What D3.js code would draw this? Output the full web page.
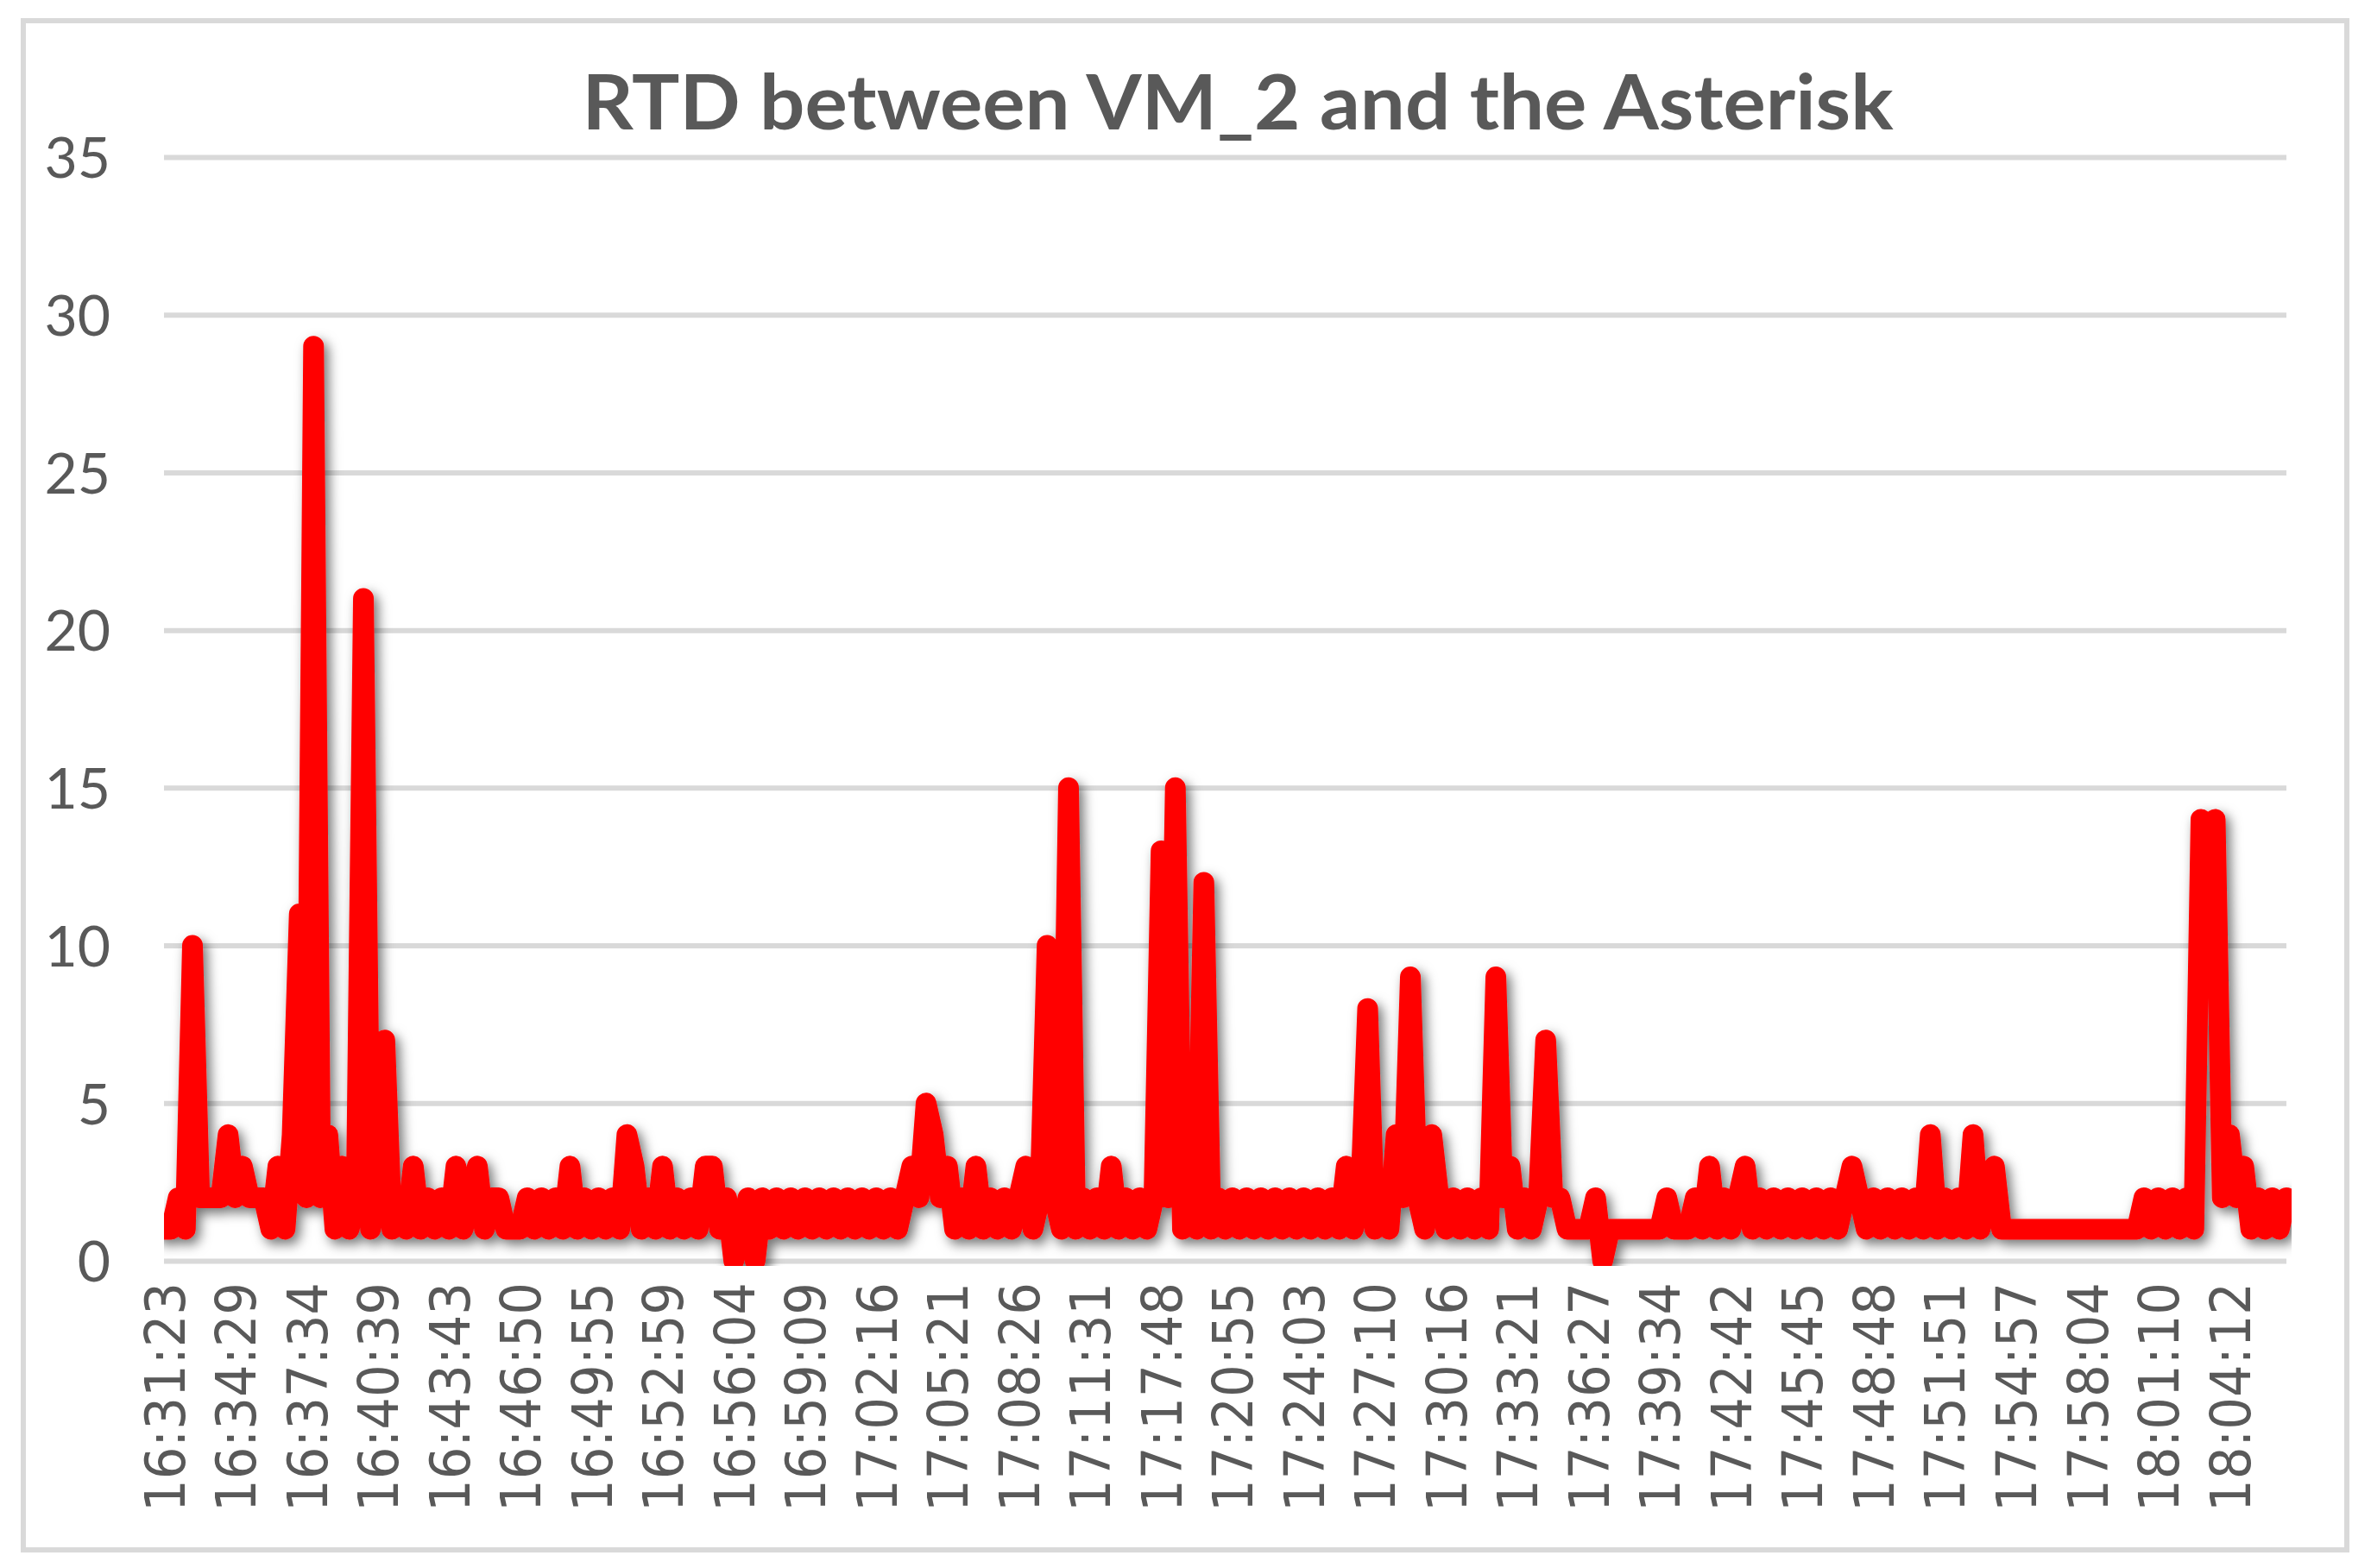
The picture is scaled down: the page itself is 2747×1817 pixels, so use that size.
<!DOCTYPE html>
<html>
<head>
<meta charset="utf-8">
<title>RTD between VM_2 and the Asterisk</title>
<script src="https://d3js.org/d3.v7.min.js"></script>
<style>
  body { margin: 0; background: #fff; }
</style>
</head>
<body>
<div id="chart"></div>
<script>
// x-axis labels, one every labelStep samples
const tickLabels = ["16:31:23", "16:34:29", "16:37:34", "16:40:39", "16:43:43", "16:46:50",
  "16:49:55", "16:52:59", "16:56:04", "16:59:09", "17:02:16", "17:05:21", "17:08:26",
  "17:11:31", "17:17:48", "17:20:55", "17:24:03", "17:27:10", "17:30:16", "17:33:21",
  "17:36:27", "17:39:34", "17:42:42", "17:45:45", "17:48:48", "17:51:51", "17:54:57",
  "17:58:04", "18:01:10", "18:04:12"];
const labelStep = 10;

const yTicks = [0, 5, 10, 15, 20, 25, 30, 35];

// RTD samples
const rtd = [
  1, 1, 2, 1, 10, 2, 2, 2, 2, 4,
  2, 3, 2, 2, 2, 1, 3, 1, 4, 11,
  2, 29, 2, 4, 1, 3, 1, 2, 21, 1,
  2, 7, 1, 2, 1, 3, 1, 2, 1, 2,
  1, 3, 1, 2, 3, 1, 2, 2, 1, 1,
  1, 2, 1, 2, 1, 2, 1, 3, 1, 2,
  1, 2, 1, 2, 1, 4, 3, 1, 2, 1,
  3, 1, 2, 1, 2, 1, 3, 3, 1, 2,
  0, 1, 2, 0, 2, 1, 2, 1, 2, 1,
  2, 1, 2, 1, 2, 1, 2, 1, 2, 1,
  2, 1, 2, 1, 2, 3, 2, 5, 4, 2,
  3, 1, 2, 1, 3, 1, 2, 1, 2, 1,
  2, 3, 1, 2, 10, 2, 1, 15, 1, 2,
  1, 2, 1, 3, 1, 2, 1, 2, 1, 2,
  13, 2, 15, 1, 2, 1, 12, 1, 2, 1,
  2, 1, 2, 1, 2, 1, 2, 1, 2, 1,
  2, 1, 2, 1, 2, 1, 3, 1, 2, 8,
  1, 2, 1, 4, 2, 9, 2, 1, 4, 2,
  1, 2, 1, 2, 1, 2, 1, 9, 2, 3,
  1, 2, 1, 2, 7, 2, 2, 1, 1, 1,
  1, 2, 0, 1, 1, 1, 1, 1, 1, 1,
  1, 2, 1, 1, 1, 2, 1, 3, 1, 2,
  1, 2, 3, 1, 2, 1, 2, 1, 2, 1,
  2, 1, 2, 1, 2, 1, 2, 3, 2, 1,
  2, 1, 2, 1, 2, 1, 2, 1, 4, 1,
  2, 1, 2, 1, 4, 1, 2, 3, 1, 1,
  1, 1, 1, 1, 1, 1, 1, 1, 1, 1,
  1, 1, 1, 1, 1, 1, 1, 1, 2, 1,
  2, 1, 2, 1, 2, 1, 14, 12, 14, 2,
  4, 2, 3, 1, 2, 1, 2, 1, 2
];

const W = 2747, H = 1817;
const plot = {left: 190, right: 2649, top: 182, bottom: 1461};
const grey = "#595959";

const svg = d3.select("#chart").append("svg")
    .attr("width", W)
    .attr("height", H);

// chart frame
svg.append("rect")
    .attr("x", 27).attr("y", 24)
    .attr("width", 2692).attr("height", 1772)
    .attr("fill", "#fff")
    .attr("stroke", "#d9d9d9")
    .attr("stroke-width", 6);

const x = d3.scaleLinear()
    .domain([0, rtd.length - 1])
    .range([plot.left, plot.right]);

const y = d3.scaleLinear()
    .domain([0, 35])
    .range([plot.bottom, plot.top]);

// y axis + gridlines
const yAxis = d3.axisLeft(y)
    .tickValues(yTicks)
    .tickSize(-(plot.right - plot.left))
    .tickPadding(62);

const gy = svg.append("g")
    .attr("transform", "translate(" + plot.left + ",0)")
    .call(yAxis);
gy.select(".domain").remove();
gy.selectAll(".tick line")
    .attr("stroke", "#d9d9d9")
    .attr("stroke-width", 6);
gy.selectAll(".tick text")
    .attr("fill", grey)
    .attr("font-family", "Lato, 'Open Sans', sans-serif")
    .attr("font-size", 66)
    .attr("dy", "0.36em");

// x axis with rotated time labels
const xAxis = d3.axisBottom(x)
    .tickValues(d3.range(0, rtd.length, labelStep))
    .tickFormat((d, i) => tickLabels[i])
    .tickSize(0);

const gx = svg.append("g")
    .attr("transform", "translate(0," + plot.bottom + ")")
    .call(xAxis);
gx.select(".domain").remove();
gx.selectAll(".tick text")
    .attr("transform", "rotate(-90)")
    .attr("x", -25)
    .attr("y", 0)
    .attr("dy", "0.36em")
    .attr("text-anchor", "end")
    .attr("fill", grey)
    .attr("font-family", "'DejaVu Sans', sans-serif")
    .attr("font-size", 64)
    .attr("textLength", 266)
    .attr("lengthAdjust", "spacingAndGlyphs");

// shadow + clip like the spreadsheet plot area
const defs = svg.append("defs");
const shadow = defs.append("filter")
    .attr("id", "shadow")
    .attr("x", "-10%").attr("y", "-10%")
    .attr("width", "120%").attr("height", "120%");
shadow.append("feDropShadow")
    .attr("dx", 5).attr("dy", 6)
    .attr("stdDeviation", 7)
    .attr("flood-color", "#000")
    .attr("flood-opacity", 0.55);

defs.append("clipPath").attr("id", "plotClip")
  .append("rect")
    .attr("x", plot.left)
    .attr("y", 0)
    .attr("width", plot.right - plot.left + 6)
    .attr("height", plot.bottom + 6);

const line = d3.line()
    .x((d, i) => x(i))
    .y(d => y(d));

svg.append("g")
    .attr("clip-path", "url(#plotClip)")
  .append("path")
    .datum(rtd)
    .attr("d", line)
    .attr("fill", "none")
    .attr("stroke", "#ff0000")
    .attr("stroke-width", 24)
    .attr("stroke-linejoin", "round")
    .attr("stroke-linecap", "round")
    .attr("filter", "url(#shadow)");

// title
svg.append("text")
    .attr("x", 1434)
    .attr("y", 150)
    .attr("text-anchor", "middle")
    .attr("font-family", "Lato, 'Open Sans', sans-serif")
    .attr("font-weight", "bold")
    .attr("font-size", 88)
    .attr("fill", grey)
    .attr("textLength", 1519)
    .attr("lengthAdjust", "spacingAndGlyphs")
    .text("RTD between VM_2 and the Asterisk");
</script>
</body>
</html>
